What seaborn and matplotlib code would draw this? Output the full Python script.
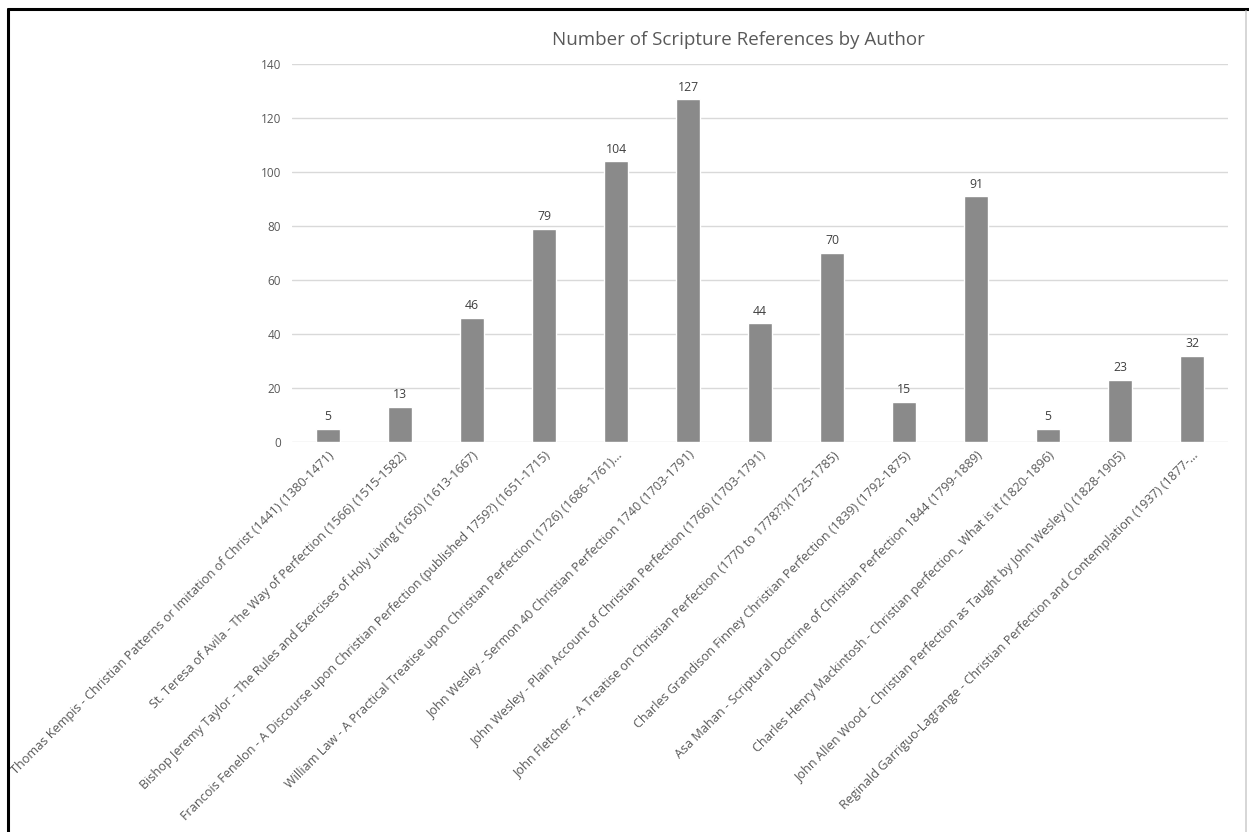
import matplotlib
matplotlib.use("Agg")
import matplotlib.pyplot as plt
from matplotlib.lines import Line2D
import seaborn as sns
import pandas as pd

authors = [
    "Thomas Kempis - Christian Patterns or Imitation of Christ (1441) (1380-1471)",
    "St. Teresa of Avila - The Way of Perfection (1566) (1515-1582)",
    "Bishop Jeremy Taylor - The Rules and Exercises of Holy Living (1650) (1613-1667)",
    "Francois Fenelon - A Discourse upon Christian Perfection (published 1759?) (1651-1715)",
    "William Law - A Practical Treatise upon Christian Perfection (1726) (1686-1761)...",
    "John Wesley - Sermon 40 Christian Perfection 1740 (1703-1791)",
    "John Wesley - Plain Account of Christian Perfection (1766) (1703-1791)",
    "John Fletcher - A Treatise on Christian Perfection (1770 to 1778??)(1725-1785)",
    "Charles Grandison Finney Christian Perfection (1839) (1792-1875)",
    "Asa Mahan - Scriptural Doctrine of Christian Perfection 1844 (1799-1889)",
    "Charles Henry Mackintosh - Christian perfection_ What is it (1820-1896)",
    "John Allen Wood - Christian Perfection as Taught by John Wesley () (1828-1905)",
    "Reginald Garriguo-Lagrange - Christian Perfection and Contemplation (1937) (1877-...",
]
references = [5, 13, 46, 79, 104, 127, 44, 70, 15, 91, 5, 23, 32]
y_ticks = [0, 20, 40, 60, 80, 100, 120, 140]

sns.set_style("white")
plt.rcParams["font.family"] = ["Open Sans", "DejaVu Sans"]

df = pd.DataFrame({"author": authors, "refs": references})

W, H = 1249, 832
fig = plt.figure(figsize=(W / 100, H / 100), dpi=100)
ax = fig.add_axes([292 / W, 1 - 442 / H, (1228 - 292) / W, (442 - 64) / H])

sns.barplot(data=df, x="author", y="refs", color="#8a8a8a", width=0.32,
            saturation=1, ax=ax, zorder=3)

ax.set_ylim(0, 140)
ax.set_xlim(-0.5, len(authors) - 0.5)
ax.set_yticks(y_ticks)
ax.set_yticklabels([str(t) for t in y_ticks], fontsize=8.5, color="#595959")
ax.yaxis.grid(True, color="#d9d9d9", linewidth=1.0, zorder=0)
ax.tick_params(axis="y", length=0, pad=8)
ax.tick_params(axis="x", length=0, pad=5)
for s in ax.spines.values():
    s.set_visible(False)
ax.set_xlabel("")
ax.set_ylabel("")
ax.set_xticks(range(len(authors)))
ax.set_xticklabels(authors, rotation=45, ha="right", rotation_mode="anchor",
                   fontsize=9.1, color="#595959")

for c in ax.containers:
    ax.bar_label(c, labels=[str(v) for v in references], padding=4,
                 fontsize=8.8, color="#404040")

fig.text(738 / W, 1 - 40 / H, "Number of Scripture References by Author",
         ha="center", va="center", fontsize=13.5, color="#595959")

# outer frame of the chart area
fig.add_artist(Line2D([8 / W, 1], [1 - 9 / H, 1 - 9 / H], color="black",
                      linewidth=2.2, transform=fig.transFigure))
fig.add_artist(Line2D([8 / W, 8 / W], [0, 1 - 9 / H], color="black",
                      linewidth=2.2, transform=fig.transFigure))
fig.add_artist(Line2D([1246 / W, 1246 / W], [0, 1 - 11 / H], color="#d0d0d0",
                      linewidth=1.2, transform=fig.transFigure))

fig.savefig("out.png", dpi=100, facecolor="white")
